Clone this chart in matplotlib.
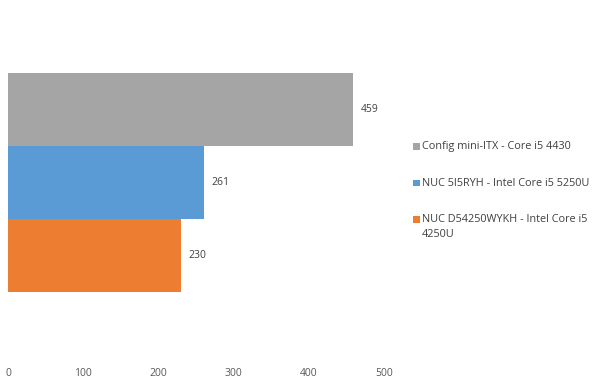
import matplotlib
matplotlib.use("Agg")
import matplotlib.pyplot as plt
from matplotlib.patches import Rectangle

series = ["NUC D54250WYKH - Intel Core i5\n4250U", "NUC 5I5RYH - Intel Core i5 5250U", "Config mini-ITX - Core i5 4430"]
values = [230, 261, 459]
colors = ["#ED7D31", "#5B9BD5", "#A5A5A5"]
xticks = [0, 100, 200, 300, 400, 500]

W, H = 593, 386
fig = plt.figure(figsize=(W / 100, H / 100), dpi=100)
plt.rcParams['font.family'] = ['Open Sans', 'DejaVu Sans']
left, right, top, bottom = 8, 384, 20, 360
ax = fig.add_axes([left / W, 1 - bottom / H, (right - left) / W, (bottom - top) / H])

pos = list(range(len(values)))
ax.barh(pos, values, height=1.0, color=colors, edgecolor='none')
for p, v in zip(pos, values):
    ax.text(v + 10, p, str(v), va='center', ha='left', fontsize=7.5, color='#404040')

ax.set_xlim(0, 500)
ax.set_ylim(-1.4315, 3.226)
ax.set_xticks(xticks)
ax.set_xticklabels([str(t) for t in xticks], fontsize=7.5, color='#595959')
ax.tick_params(axis='x', length=0, pad=6)
ax.set_yticks([])
for s in ax.spines.values():
    s.set_visible(False)

# legend (drawn in figure pixels, top-down order: gray, blue, orange)
leg_y = [146, 183, 219]
line_h = 15
for y, lab, c in zip(leg_y, reversed(series), reversed(colors)):
    fig.patches.append(Rectangle((413 / W, 1 - (y + 3.5) / H), 7 / W, 7 / H,
                                 transform=fig.transFigure, facecolor=c, edgecolor='none'))
    for i, line in enumerate(lab.split("\n")):
        fig.text(422 / W, 1 - (y + i * line_h) / H, line, ha='left', va='center',
                 fontsize=7.8, color='#404040')

fig.savefig("out.png", dpi=100)
